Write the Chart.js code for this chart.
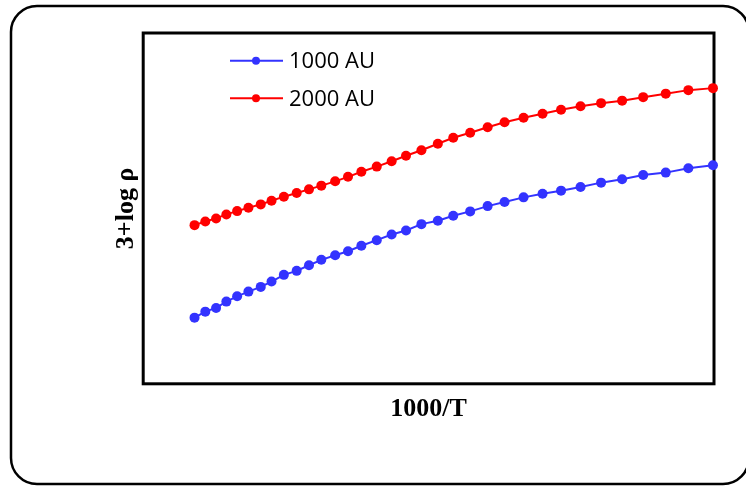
<!DOCTYPE html>
<html>
<head>
<meta charset="utf-8">
<script src="https://cdn.jsdelivr.net/npm/chart.js@4"></script>
<style>
  html, body { margin: 0; padding: 0; background: #fff; }
  #wrap { width: 746px; height: 487px; }
</style>
</head>
<body>
<div id="wrap"><canvas id="myChart" width="746" height="487"></canvas></div>
<script>
// 1000/T values (no ticks on the original axis)
const invT = [2.020, 2.041, 2.062, 2.082, 2.103, 2.125, 2.149, 2.170, 2.194, 2.219,
              2.243, 2.267, 2.294, 2.319, 2.345, 2.375, 2.404, 2.432, 2.462, 2.494,
              2.524, 2.557, 2.591, 2.624, 2.661, 2.698, 2.734, 2.772, 2.812, 2.853,
              2.894, 2.938, 2.982, 3.030];

// 3+log rho, arbitrary units (axis has no numbers)
const rho1000 = [0.660, 0.720, 0.757, 0.820, 0.873, 0.920, 0.967, 1.020, 1.087, 1.127,
                 1.183, 1.237, 1.283, 1.323, 1.377, 1.433, 1.490, 1.530, 1.593, 1.627,
                 1.677, 1.720, 1.773, 1.813, 1.860, 1.897, 1.927, 1.963, 2.007, 2.040,
                 2.083, 2.107, 2.150, 2.180];
const rho2000 = [1.583, 1.620, 1.650, 1.690, 1.723, 1.757, 1.790, 1.827, 1.867, 1.903,
                 1.940, 1.977, 2.020, 2.065, 2.115, 2.167, 2.220, 2.275, 2.330, 2.395,
                 2.455, 2.505, 2.560, 2.610, 2.655, 2.695, 2.735, 2.770, 2.800, 2.825,
                 2.860, 2.895, 2.930, 2.950];

const seriesLabels = ['1000 AU', '2000 AU'];
const seriesColors = ['#3333ff', '#ff0000'];

function toPoints(xs, ys) {
    return xs.map((x, i) => ({ x: x, y: ys[i] }));
}

// outer rounded box + plot frame
const framePlugin = {
    id: 'frame',
    beforeDatasetsDraw(chart) {
        const ctx = chart.ctx;
        const a = chart.chartArea;
        ctx.save();
        ctx.strokeStyle = '#000';
        ctx.lineWidth = 2.5;
        ctx.beginPath();
        ctx.roundRect(11, 6, 738, 478, 26);
        ctx.stroke();
        ctx.lineWidth = 3;
        ctx.strokeRect(a.left, a.top, a.right - a.left, a.bottom - a.top);
        ctx.restore();
    }
};

// legend drawn as line + marker, like the original
const legendPlugin = {
    id: 'lineLegend',
    afterDatasetsDraw(chart) {
        const ctx = chart.ctx;
        const rows = [60.7, 98.3];
        ctx.save();
        chart.data.datasets.forEach((ds, i) => {
            const y = rows[i];
            ctx.strokeStyle = ds.borderColor;
            ctx.lineWidth = 2;
            ctx.beginPath();
            ctx.moveTo(230, y);
            ctx.lineTo(283, y);
            ctx.stroke();
            ctx.fillStyle = ds.borderColor;
            ctx.beginPath();
            ctx.arc(256, y, 4, 0, Math.PI * 2);
            ctx.fill();
            ctx.fillStyle = '#000';
            ctx.font = '22px "Open Sans"';
            ctx.textBaseline = 'middle';
            ctx.fillText(ds.label, 289, y + 1);
        });
        ctx.restore();
    }
};

const ctx = document.getElementById('myChart').getContext('2d');
new Chart(ctx, {
    type: 'line',
    data: {
        datasets: [rho1000, rho2000].map((vals, i) => ({
            label: seriesLabels[i],
            data: toPoints(invT, vals),
            borderColor: seriesColors[i],
            backgroundColor: seriesColors[i],
            pointBackgroundColor: seriesColors[i],
            pointBorderColor: seriesColors[i],
            borderWidth: 2,
            pointRadius: 5,
            pointBorderWidth: 0,
            tension: 0,
            clip: false
        }))
    },
    options: {
        responsive: false,
        animation: false,
        layout: { padding: { left: 111, right: 32, top: 33, bottom: 62 } },
        scales: {
            x: {
                type: 'linear',
                min: 1.920,
                max: 3.032,
                grid: { display: false, drawTicks: false },
                border: { display: false },
                ticks: { display: false },
                title: {
                    display: true,
                    text: '1000/T',
                    color: '#000',
                    font: { family: '"Liberation Serif", "Times New Roman", serif', size: 26, weight: 'bold' },
                    padding: { top: 10, bottom: 0 }
                }
            },
            y: {
                min: 0,
                max: 3.5,
                grid: { display: false, drawTicks: false },
                border: { display: false },
                ticks: { display: false },
                title: {
                    display: true,
                    text: '3+log ρ',
                    color: '#000',
                    font: { family: '"Liberation Serif", "Times New Roman", serif', size: 26, weight: 'bold' },
                    padding: { top: 0, bottom: 1 }
                }
            }
        },
        plugins: {
            legend: { display: false },
            tooltip: { enabled: false }
        }
    },
    plugins: [framePlugin, legendPlugin]
});
</script>
</body>
</html>
